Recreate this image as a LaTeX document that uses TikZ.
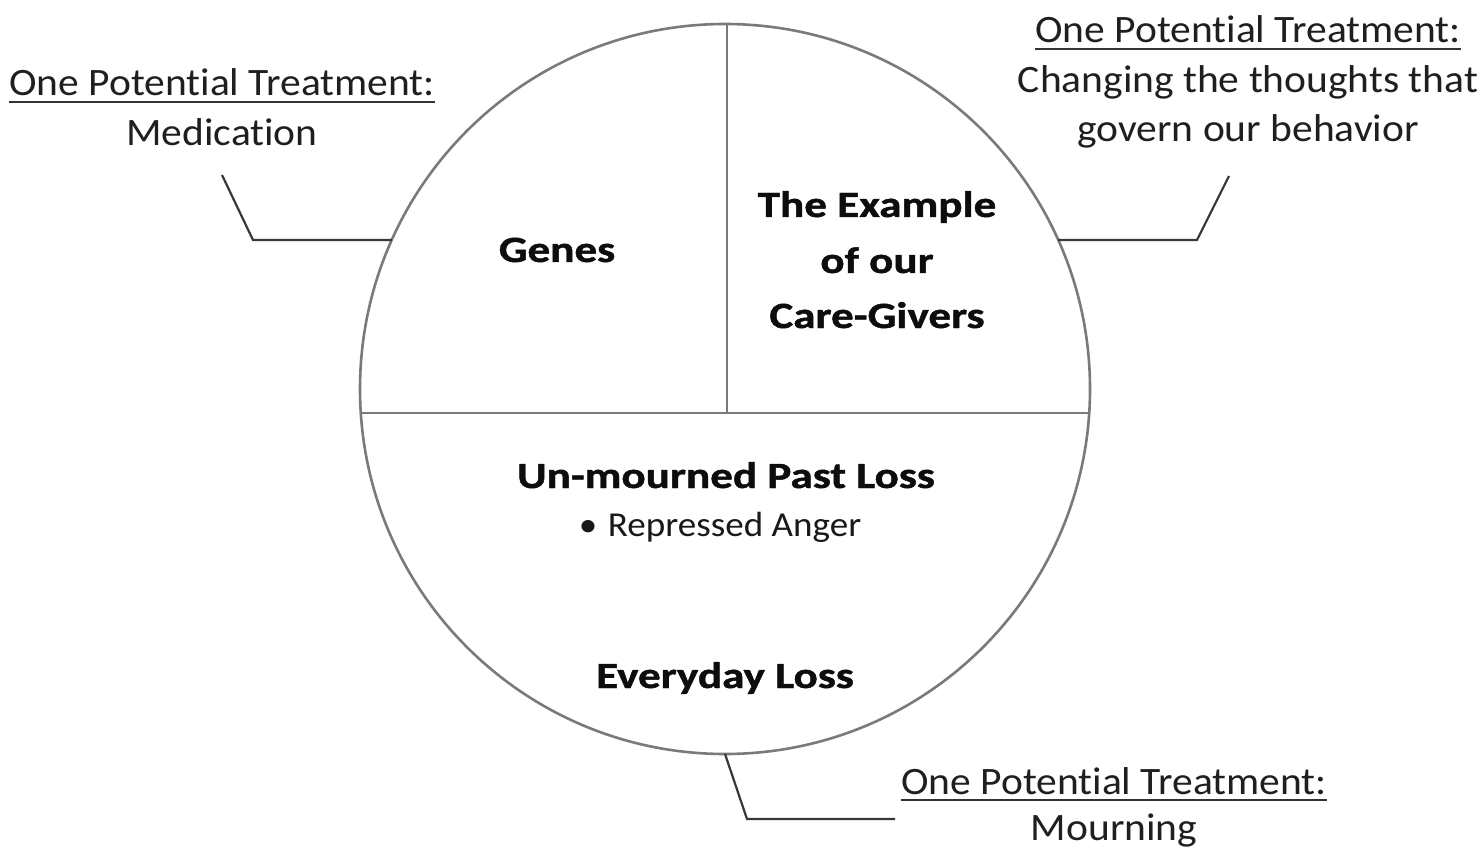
\documentclass[tikz,border=0pt]{standalone}
\usepackage{fontspec}
\setmainfont{Carlito}[FakeStretch=1.07, Ligatures=NoCommon]
\newfontfamily\headfont{Carlito}[FakeStretch=1.22, Ligatures=NoCommon, BoldFeatures={FakeBold=1.2}]
\newfontfamily\pointfont{Carlito}[FakeStretch=1.06, Ligatures=NoCommon]
% underline drawn as a thicker rule a little below the baseline
\newcommand\undl[1]{\setbox0\hbox{#1}\rlap{\color{black!80}\rule[-7pt]{\wd0}{2.4pt}}\box0}
\begin{document}
\begin{tikzpicture}[x=1pt,y=-1pt,
  divider/.style={draw=black!52, line width=2.6pt},
  leader/.style={draw=black!78, line width=2.2pt, line join=miter},
  heading/.style={anchor=base, inner sep=0pt, text=black!95, font=\fontsize{37}{44}\headfont\bfseries},
  note/.style={anchor=base, inner sep=0pt, text=black!88, font=\fontsize{38.8}{48}\selectfont},
  point/.style={anchor=base, inner sep=0pt, text=black!90, font=\fontsize{35}{42}\pointfont}]
  \useasboundingbox[fill=white] (0,0) rectangle (1483,850);

  % the circle of causes
  \node[divider, circle, minimum size=730pt, inner sep=0pt, outer sep=0pt] (disc) at (725,389) {};

  % points on the rim of the circle
  \coordinate (rimW) at (360.8,413);
  \coordinate (rimE) at (1089.2,413);
  \coordinate (rimN) at (727,24);
  \coordinate (meet) at (727,413);
  \coordinate (rimNW) at (391.8,240);
  \coordinate (rimNE) at (1058.2,240);
  \coordinate (rimS) at (725,754);

  % dividing lines
  \draw[divider] (rimW) -- (rimE);
  \draw[divider] (rimN) -- (meet);

  % section headings
  \node[heading] (genes) at (557,262) {Genes};
  \node[heading] (ex1) at (877,217) {The Example};
  \node[heading] (ex2) at (877,273) {of our};
  \node[heading] (ex3) at (877,328) {Care-Givers};
  \node[heading] (past) at (726,488) {Un-mourned Past Loss};
  \node[point] (anger) at (720,536) {•\hspace{0.3em}Repressed Anger};
  \node[heading] (everyday) at (725,688) {Everyday Loss};

  % treatments
  \node[note] (tl1) at (222,96) {\undl{One Potential Treatment:}};
  \node[note] (tl2) at (222,146) {Medication};
  \node[note] (tr1) at (1248,43) {\undl{One Potential Treatment:}};
  \node[note] (tr2) at (1248,93) {Changing the thoughts that};
  \node[note] (tr3) at (1248,142) {govern our behavior};
  \node[note] (bt1) at (1114,794) {\undl{One Potential Treatment:}};
  \node[note] (bt2) at (1114,840) {Mourning};

  % leader lines from the circle to each treatment
  \coordinate (lcorner) at (253,240);
  \coordinate (lend) at (222,175);
  \draw[leader] (rimNW) -- (lcorner) -- (lend);

  \coordinate (rcorner) at (1197,240);
  \coordinate (rend) at (1229,176);
  \draw[leader] (rimNE) -- (rcorner) -- (rend);

  \coordinate (bcorner) at (747,819);
  \coordinate (bend) at (895,819);
  \draw[leader] (rimS) -- (bcorner) -- (bend);
\end{tikzpicture}
\end{document}
